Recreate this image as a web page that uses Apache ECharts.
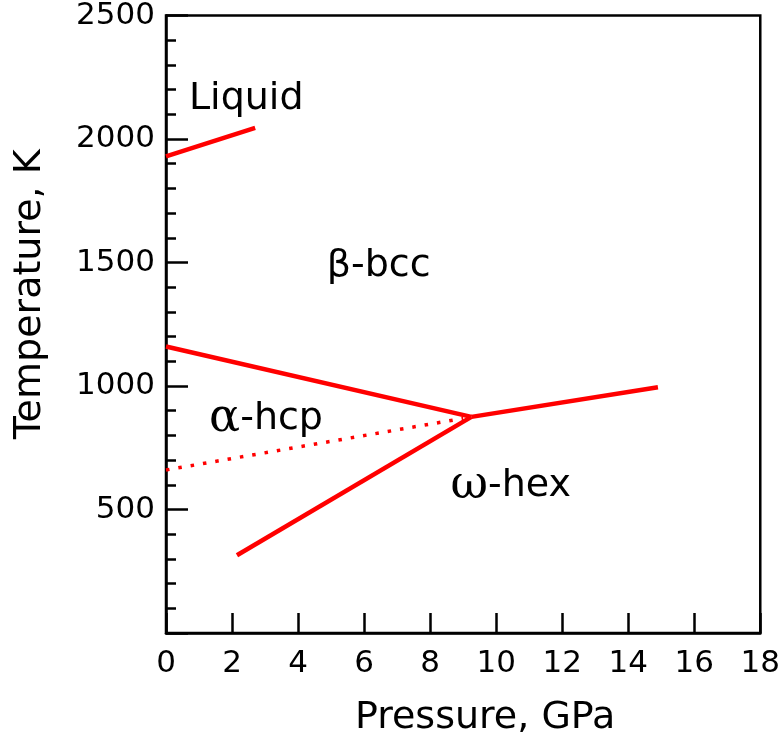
<!DOCTYPE html>
<html>
<head>
<meta charset="utf-8">
<script src="https://cdn.jsdelivr.net/npm/echarts@6/dist/echarts.min.js"></script>
<style>
  html, body { margin: 0; padding: 0; background: #fff; }
  #chart { width: 783px; height: 742px; }
</style>
</head>
<body>
<div id="chart"></div>
<script>
// Phase boundaries of titanium: [pressure GPa, temperature K]
const liquidLine = [[0, 1930], [2.7, 2045]];
const alphaBetaLine = [[0, 1160], [9.25, 875]];
const betaOmegaLine = [[9.25, 875], [14.9, 995]];
const alphaOmegaLine = [[2.15, 315], [9.25, 875]];
const metastableLine = [[0, 660], [9.0, 869]];

// Phase field names and where they sit in the diagram
const phaseGreek = ['', 'β', 'α', 'ω'];
const phaseSuffix = ['Liquid', '-bcc', '-hcp', '-hex'];
const phaseAnchors = [[2.43, 2160], [6.44, 1486], [3.03, 867], [10.44, 595]];

const xTicks = { min: 0, max: 18, step: 2 };
const yTicks = { min: 0, max: 2500, step: 500 };

const RED = '#ff0000';
const FONT = 'DejaVu Sans';
const INK = '#000';

function boundary(data, dotted) {
  return {
    type: 'line',
    data: data,
    symbol: 'none',
    silent: true,
    lineStyle: dotted
      ? { color: RED, width: 3.5, type: [3.5, 9], cap: 'butt' }
      : { color: RED, width: 4.5, cap: 'butt' }
  };
}

const chart = echarts.init(document.getElementById('chart'), null, { renderer: 'canvas' });

chart.setOption({
  animation: false,
  backgroundColor: '#fff',
  grid: {
    left: 166, right: 19, top: 13, bottom: 109,
    show: true, borderColor: INK, borderWidth: 2.5, backgroundColor: 'transparent'
  },
  xAxis: {
    type: 'value',
    min: xTicks.min, max: xTicks.max, interval: xTicks.step,
    name: 'Pressure, GPa',
    nameLocation: 'middle',
    nameGap: 66,
    nameTextStyle: { fontFamily: FONT, fontSize: 38, color: INK, padding: [0, 0, 0, 44] },
    axisLine: { show: true, lineStyle: { color: INK, width: 2.5 } },
    axisTick: { show: true, inside: true, length: 20, lineStyle: { color: INK, width: 2.5 } },
    axisLabel: { fontFamily: FONT, fontSize: 31, color: INK, margin: 15 },
    splitLine: { show: false }
  },
  yAxis: {
    type: 'value',
    min: yTicks.min, max: yTicks.max, interval: yTicks.step,
    name: 'Temperature, K',
    nameLocation: 'middle',
    nameGap: 117,
    nameTextStyle: { fontFamily: FONT, fontSize: 38, color: INK, padding: [0, 0, 0, 60] },
    axisLine: { show: true, lineStyle: { color: INK, width: 2.5 } },
    axisTick: { show: true, inside: true, length: 22, lineStyle: { color: INK, width: 2.5 } },
    minorTick: { show: true, splitNumber: 5, length: 10, lineStyle: { color: INK, width: 2.5 } },
    axisLabel: {
      fontFamily: FONT, fontSize: 31, color: INK, margin: 11,
      formatter: v => (v === 0 ? '' : String(v))
    },
    splitLine: { show: false }
  },
  series: [
    boundary(liquidLine),
    boundary(alphaBetaLine),
    boundary(betaOmegaLine),
    boundary(alphaOmegaLine),
    boundary(metastableLine, true),
    {
      type: 'scatter',
      silent: true,
      symbolSize: 0,
      itemStyle: { opacity: 1 },
      data: phaseAnchors.map((p, i) => ({ value: p, greek: phaseGreek[i], suffix: phaseSuffix[i] })),
      label: {
        show: true,
        position: 'inside',
        align: 'center',
        verticalAlign: 'middle',
        color: INK,
        opacity: 1,
        textBorderWidth: 0,
        formatter: p => {
          const g = p.data.greek;
          const head = !g ? '' : (g === 'β' ? '{gs|' + g + '}' : '{g|' + g + '}');
          return head + '{t|' + p.data.suffix + '}';
        },
        rich: {
          g: { fontFamily: 'DejaVu Serif', fontSize: 46, color: INK, textBorderWidth: 0 },
          gs: { fontFamily: FONT, fontSize: 38, color: INK, textBorderWidth: 0 },
          t: { fontFamily: FONT, fontSize: 38, color: INK, textBorderWidth: 0 }
        }
      }
    }
  ]
});
</script>
</body>
</html>
